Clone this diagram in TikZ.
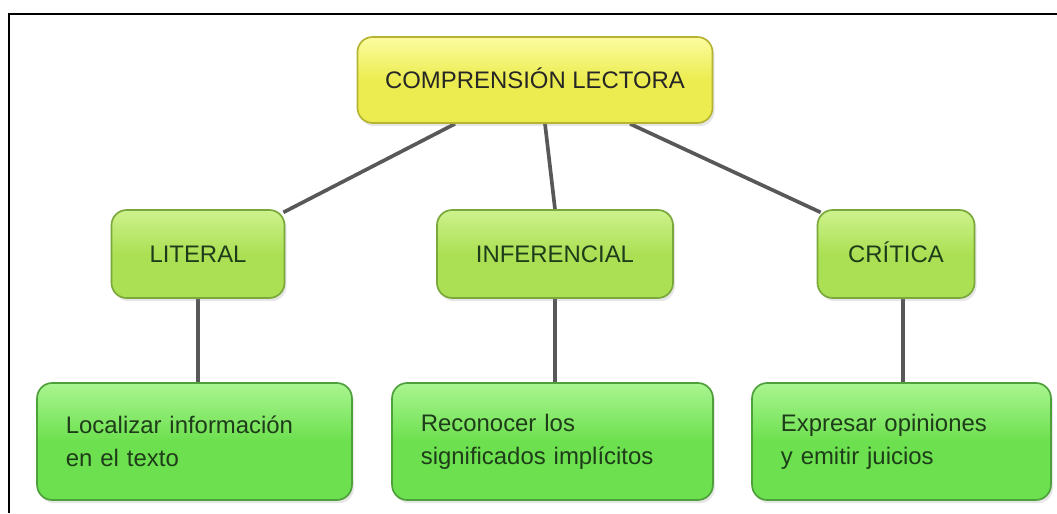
\documentclass[tikz,border=0pt]{standalone}
\usepackage{fontspec}
\setmainfont{Liberation Sans}
\usetikzlibrary{backgrounds,shadows}
\definecolor{rootlight}{RGB}{252,252,160}
\definecolor{rootfill}{RGB}{236,236,80}
\definecolor{rootline}{RGB}{180,180,50}
\definecolor{levellight}{RGB}{205,242,140}
\definecolor{levelfill}{RGB}{172,224,84}
\definecolor{levelline}{RGB}{122,168,58}
\definecolor{leaflight}{RGB}{170,245,145}
\definecolor{leaffill}{RGB}{108,224,78}
\definecolor{leafline}{RGB}{78,160,58}
\definecolor{linkgray}{RGB}{88,88,88}
\definecolor{textgreen}{RGB}{30,60,25}
\begin{document}
\begin{tikzpicture}[x=0.025cm,y=-0.025cm,
  box/.style={rounded corners=0.38cm, line width=1.2pt,
    drop shadow={opacity=0.2, shadow xshift=0.05cm, shadow yshift=-0.08cm},
    font=\fontsize{17}{23.5}\selectfont},
  rootbox/.style={box, draw=rootline, top color=rootlight, bottom color=rootfill,
    middle color=rootfill, minimum width=8.875cm, minimum height=2.15cm,
    text height=12pt, text depth=0pt, text=black!85},
  levelbox/.style={box, draw=levelline, top color=levellight, bottom color=levelfill,
    middle color=levelfill, minimum height=2.2cm, text height=12pt, text depth=0pt,
    text=textgreen},
  leafbox/.style={box, draw=leafline, top color=leaflight, bottom color=leaffill,
    middle color=leaffill, minimum height=2.925cm, inner xsep=0.72cm,
    align=left, text=textgreen},
  link/.style={draw, line width=2.6pt, color=linkgray}]
\useasboundingbox (0,0) rectangle (1057,513);
\draw[line width=1.5pt] (9,513) -- (9,14) -- (1057,14);
\node[rootbox] (cl) at (535,80) {COMPRENSIÓN LECTORA};
\node[levelbox, minimum width=4.325cm] (lit) at (198,254) {LITERAL};
\node[levelbox, minimum width=5.9cm] (inf) at (555,254) {INFERENCIAL};
\node[levelbox, minimum width=3.925cm] (cri) at (896,254) {CRÍTICA};
\node[leafbox, text width=6.43cm] (loc) at (194.5,441.5) {Localizar información\\en el texto};
\node[leafbox, text width=6.58cm] (rec) at (552.5,441.5) {Reconocer los\\significados implícitos};
\node[leafbox, text width=6.03cm] (exp) at (901.5,441.5) {Expresar opiniones\\y emitir juicios};
\begin{scope}[on background layer]
\path[link] ([xshift=-2cm]cl.south) -- ([xshift=-0.05cm,yshift=-0.08cm]lit.north east);
\path[link] ([xshift=0.25cm]cl.south) -- (inf.north);
\path[link] ([xshift=2.375cm]cl.south) -- ([xshift=0.1cm,yshift=-0.08cm]cri.north west);
\path[link] (lit.south) -- (lit.south |- loc.north);
\path[link] (inf.south) -- (inf.south |- rec.north);
\path[link] ([xshift=0.175cm]cri.south) -- ([xshift=0.175cm]cri.south |- exp.north);
\end{scope}
\end{tikzpicture}
\end{document}
